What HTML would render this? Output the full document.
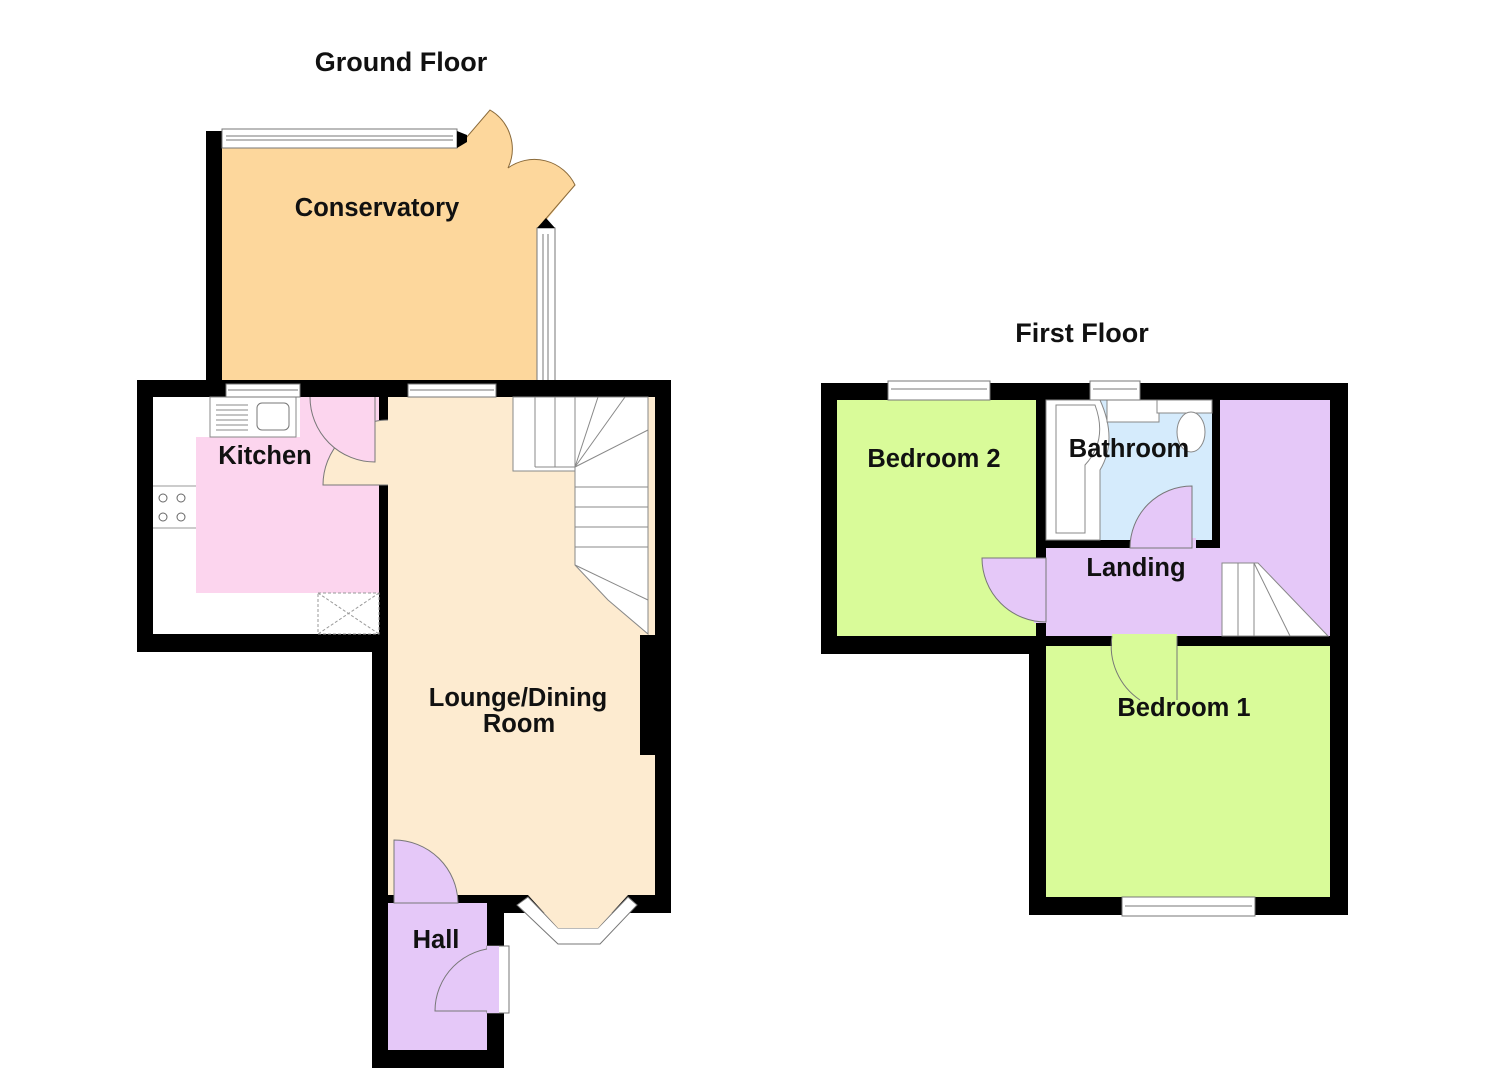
<!DOCTYPE html>
<html><head><meta charset="utf-8"><style>
body{margin:0;background:#fff}
svg{display:block}
text{font-family:"Liberation Sans",Arial,sans-serif;font-weight:bold;fill:#111}
</style></head><body>
<svg width="1485" height="1080" viewBox="0 0 1485 1080" xmlns="http://www.w3.org/2000/svg">
<text x="401" y="71" font-size="27" text-anchor="middle">Ground Floor</text>
<text x="1082" y="342" font-size="27" text-anchor="middle">First Floor</text>

<!-- ========== GROUND FLOOR ========== -->
<rect x="206" y="131" width="16" height="256" fill="#000"/>
<path d="M222,148 L457,148 L490,110 A45,45 0 0 1 508,168 A45,45 0 0 1 575,185 L540,228 L540,386 L222,386 Z" fill="#FDD79C"/>
<path d="M460,145 L490,110 A45,45 0 0 1 508,168 A45,45 0 0 1 575,185 L543,222" fill="none" stroke="#8a6a3a" stroke-width="1"/>
<rect x="222" y="129" width="235" height="19" fill="#fff" stroke="#777" stroke-width="1"/>
<line x1="226" y1="136" x2="453" y2="136" stroke="#777"/><line x1="226" y1="140" x2="453" y2="140" stroke="#777"/>
<polygon points="457,131 467,135 467,142 457,148" fill="#000"/>
<rect x="537" y="228" width="18" height="160" fill="#fff" stroke="#777" stroke-width="1"/>
<line x1="543" y1="234" x2="543" y2="385" stroke="#777"/><line x1="548" y1="234" x2="548" y2="385" stroke="#777"/>
<polygon points="537,228 546,218 555,228" fill="#000"/>

<rect x="137" y="380" width="534" height="272" fill="#000"/>
<rect x="372" y="640" width="132" height="428" fill="#000"/>
<rect x="372" y="640" width="299" height="273" fill="#000"/>
<rect x="153" y="397" width="226" height="237" fill="#fff"/>
<rect x="196" y="437" width="183" height="156" fill="#FCD5EE"/>
<rect x="300" y="397" width="79" height="40" fill="#FCD5EE"/>
<rect x="210" y="397" width="86" height="40" fill="#fff" stroke="#888"/>
<g stroke="#888"><line x1="216" y1="405" x2="248" y2="405"/><line x1="216" y1="410" x2="248" y2="410"/><line x1="216" y1="415" x2="248" y2="415"/><line x1="216" y1="420" x2="248" y2="420"/><line x1="216" y1="425" x2="248" y2="425"/><line x1="216" y1="430" x2="248" y2="430"/></g>
<rect x="257" y="403" width="32" height="27" rx="5" fill="#fff" stroke="#777"/>
<line x1="153" y1="486" x2="196" y2="486" stroke="#999"/><line x1="153" y1="528" x2="196" y2="528" stroke="#999"/>
<g fill="none" stroke="#666"><circle cx="163" cy="498" r="4"/><circle cx="181" cy="498" r="4"/><circle cx="163" cy="517" r="4"/><circle cx="181" cy="517" r="4"/></g>
<rect x="318" y="593" width="61" height="41" fill="#fff" stroke="#999" stroke-dasharray="3,2"/>
<line x1="318" y1="593" x2="379" y2="634" stroke="#999" stroke-dasharray="3,2"/><line x1="379" y1="593" x2="318" y2="634" stroke="#999" stroke-dasharray="3,2"/>
<rect x="388" y="397" width="267" height="498" fill="#FDEBD0"/>
<rect x="640" y="635" width="15" height="120" fill="#000"/>
<rect x="379" y="420" width="10" height="65" fill="#FDEBD0"/>
<path d="M388,420 A65,65 0 0 0 323,485 L388,485" fill="#FDEBD0" stroke="#777"/>
<rect x="310" y="397" width="65" height="40" fill="#FCD5EE"/>
<path d="M310,397 A65,65 0 0 0 375,462 L375,397" fill="#FCD5EE" stroke="#777"/>
<rect x="300" y="380" width="10" height="17" fill="#000"/>
<g fill="#fff" stroke="#888">
<rect x="513" y="397" width="62" height="74"/>
<polygon points="575,397 648,397 648,634 608,600 575,565"/>
</g>
<g stroke="#888" fill="none">
<line x1="535" y1="397" x2="535" y2="467"/><line x1="555" y1="397" x2="555" y2="467"/>
<line x1="575" y1="467" x2="598" y2="397"/><line x1="575" y1="467" x2="625" y2="397"/><line x1="575" y1="467" x2="648" y2="430"/>
<line x1="575" y1="487" x2="648" y2="487"/><line x1="575" y1="507" x2="648" y2="507"/><line x1="575" y1="527" x2="648" y2="527"/><line x1="575" y1="547" x2="648" y2="547"/>
<line x1="575" y1="565" x2="648" y2="600"/>
<line x1="535" y1="467" x2="575" y2="467"/><line x1="575" y1="467" x2="575" y2="565"/>
</g>
<rect x="226" y="384" width="74" height="13" fill="#fff" stroke="#777"/>
<line x1="228" y1="390" x2="298" y2="390" stroke="#777"/>
<rect x="408" y="384" width="88" height="13" fill="#fff" stroke="#777"/>
<line x1="410" y1="390" x2="494" y2="390" stroke="#777"/>
<polygon points="517,905 558,944 600,944 637,905 628,897 598,928 558,928 528,897" fill="#fff" stroke="#777"/>
<polygon points="528,895 558,928 598,928 628,895" fill="#FDEBD0"/>
<rect x="388" y="903" width="99" height="147" fill="#E5C8F8"/>
<path d="M394,903 L394,840 A64,64 0 0 1 458,903 Z" fill="#E5C8F8" stroke="#777"/>
<rect x="487" y="946" width="22" height="67" fill="#fff" stroke="#777"/>
<path d="M498,948 A63,63 0 0 0 435,1011 L498,1011 Z" fill="#E5C8F8" stroke="#777"/>
<rect x="487" y="946" width="12" height="67" fill="#E5C8F8"/>

<text x="377" y="216" font-size="25.5" text-anchor="middle">Conservatory</text>
<text x="265" y="464" font-size="25.5" text-anchor="middle">Kitchen</text>
<text x="518" y="706" font-size="25.5" text-anchor="middle">Lounge/Dining</text>
<text x="519" y="732" font-size="25.5" text-anchor="middle">Room</text>
<text x="436" y="948" font-size="25.5" text-anchor="middle">Hall</text>

<!-- ========== FIRST FLOOR ========== -->
<rect x="821" y="383" width="527" height="271" fill="#000"/>
<rect x="1029" y="640" width="319" height="275" fill="#000"/>
<rect x="837" y="400" width="199" height="236" fill="#D9FB99"/>
<rect x="1046" y="400" width="166" height="140" fill="#D5EBFC"/>
<rect x="1220" y="400" width="110" height="236" fill="#E5C8F8"/>
<rect x="1046" y="548" width="284" height="88" fill="#E5C8F8"/>
<rect x="1046" y="646" width="284" height="251" fill="#D9FB99"/>
<rect x="1130" y="538" width="66" height="12" fill="#E5C8F8"/>
<path d="M1130,548 A62,62 0 0 1 1192,486 L1192,548 Z" fill="#E5C8F8" stroke="#777"/>
<rect x="1034" y="558" width="14" height="65" fill="#E5C8F8"/>
<path d="M1046,558 L982,558 A64,64 0 0 0 1046,622 Z" fill="#E5C8F8" stroke="#777"/>
<rect x="1112" y="634" width="65" height="14" fill="#D9FB99"/>
<path d="M1112,636 A65,65 0 0 0 1140,700" fill="none" stroke="#777"/>
<line x1="1177" y1="636" x2="1177" y2="700" stroke="#777"/>
<path d="M1046,400 L1100,400 Q1118,440 1100,470 L1100,540 L1046,540 Z" fill="#fff" stroke="#888"/>
<path d="M1056,405 L1095,405 Q1108,440 1085,465 L1085,533 L1056,533 Z" fill="none" stroke="#888"/>
<rect x="1107" y="400" width="52" height="22" fill="#fff" stroke="#888"/>
<rect x="1157" y="400" width="55" height="13" fill="#fff" stroke="#888"/>
<ellipse cx="1191" cy="432" rx="14" ry="20" fill="#fff" stroke="#888"/>
<polygon points="1222,563 1258,563 1328,636 1222,636" fill="#fff" stroke="#888"/>
<line x1="1238" y1="563" x2="1238" y2="636" stroke="#888"/><line x1="1254" y1="563" x2="1254" y2="636" stroke="#888"/>
<line x1="1254" y1="563" x2="1290" y2="636" stroke="#888"/>
<rect x="888" y="381" width="102" height="19" fill="#fff" stroke="#777"/>
<line x1="891" y1="389" x2="987" y2="389" stroke="#777"/>
<rect x="1090" y="381" width="50" height="19" fill="#fff" stroke="#777"/>
<line x1="1093" y1="389" x2="1137" y2="389" stroke="#777"/>
<rect x="1122" y="897" width="133" height="19" fill="#fff" stroke="#777"/>
<line x1="1125" y1="906" x2="1252" y2="906" stroke="#777"/>

<text x="934" y="467" font-size="25.5" text-anchor="middle">Bedroom 2</text>
<text x="1129" y="457" font-size="25.5" text-anchor="middle">Bathroom</text>
<text x="1136" y="576" font-size="25.5" text-anchor="middle">Landing</text>
<text x="1184" y="716" font-size="25.5" text-anchor="middle">Bedroom 1</text>
</svg>
</body></html>
